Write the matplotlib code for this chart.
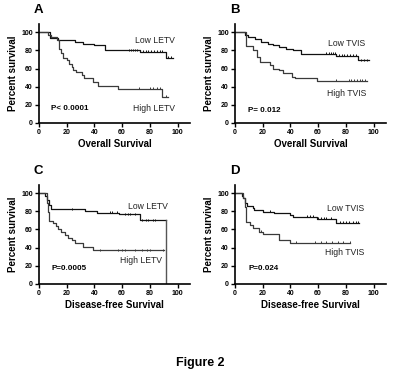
import numpy as np
import matplotlib
matplotlib.use("Agg")
from matplotlib import pyplot as plt

plt.rcParams['font.family'] = ['Liberation Sans', 'DejaVu Sans']

# ---- Panel A: overall survival by LETV ----
a_low_t = [0, 8, 14, 26, 32, 40, 47.5, 73, 92, 96.5]
a_low_s = [100, 94, 91, 89, 87.5, 86, 80, 78.5, 72, 72]
a_low_c = [65, 66.5, 68, 69.5, 71, 75, 77, 79, 81, 83, 85, 87, 89, 93, 95]
a_high_t = [0, 6.7, 9, 12.7, 14.4, 16, 17.5, 20, 22, 23.5, 24.7, 27, 30.7,
            32.6, 39, 42.7, 57, 88.7, 93]
a_high_s = [100, 97, 95, 91, 82, 77, 72, 69, 65.5, 62, 58, 56, 53, 49, 45,
            41, 37.5, 29, 29]
a_high_c = [72, 80, 82, 85, 87, 92]

# ---- Panel B: overall survival by TVIS ----
b_low_t = [0, 7, 9.6, 14.4, 19, 24, 27.6, 32, 37, 42, 48, 73, 89, 97]
b_low_s = [100, 97, 95, 92, 89, 87.5, 86, 84, 82, 80, 76, 74, 69, 69]
b_low_c = [66, 67.5, 69, 70.5, 72, 75, 77, 79, 81, 83, 85, 87, 91, 93, 95]
b_high_t = [0, 8, 13, 15.6, 18, 25, 27.6, 32, 35, 41, 43, 59, 95]
b_high_s = [100, 85, 80, 73, 67, 64, 60, 58, 55, 51, 49, 46, 46]
b_high_c = [73, 82, 84, 86, 88, 90, 92, 94]

# ---- Panel C: disease-free survival by LETV ----
c_low_t = [0, 4.3, 6, 7.2, 8.4, 33, 42, 58, 73, 92]
c_low_s = [100, 97, 92, 87, 82, 80, 78, 76.5, 70, 70]
c_low_c = [24, 33, 51, 53, 56, 62, 64, 66, 69, 74, 77, 79, 82, 84]
c_high_t = [0, 5.5, 6.7, 7.5, 10.3, 12, 13.5, 16, 19, 21, 23.5, 26, 32, 39, 90]
c_high_s = [100, 89, 79, 69, 67, 64, 60, 57, 54, 51, 48, 45, 41, 37, 37]
c_high_c = [44, 57, 60, 62, 69, 74, 78, 80, 89.5]

# ---- Panel D: disease-free survival by TVIS ----
d_low_t = [0, 4.8, 6, 7, 8.4, 13, 14, 20, 28, 40, 42, 59, 73, 89.5]
d_low_s = [100, 97, 94, 89, 86, 83, 81, 79.5, 78, 76, 74, 71.5, 67, 67]
d_low_c = [25, 52, 54, 56, 60, 62, 64, 66, 69, 76, 78, 80, 82, 85, 87, 89]
d_high_t = [0, 6, 7, 7.7, 11, 13, 17, 20, 32, 40, 83]
d_high_s = [100, 94, 85, 68.5, 65, 62, 57.5, 54.6, 48, 45, 45]
d_high_c = [19, 44, 58, 62, 66, 70, 74, 78, 83]

panels = [
    ('A', 'Overall Survival', 'P< 0.0001',
     (a_low_t, a_low_s, a_low_c), (a_high_t, a_high_s, a_high_c),
     ('Low LETV', 98, 91), ('High LETV', 98, 16.5), (9, 16.5)),
    ('B', 'Overall Survival', 'P= 0.012',
     (b_low_t, b_low_s, b_low_c), (b_high_t, b_high_s, b_high_c),
     ('Low TVIS', 94, 87.5), ('High TVIS', 94.5, 33), (9.4, 14)),
    ('C', 'Disease-free Survival', 'P=0.0005',
     (c_low_t, c_low_s, c_low_c), (c_high_t, c_high_s, c_high_c),
     ('Low LETV', 93, 85), ('High LETV', 89, 25.6), (9, 17)),
    ('D', 'Disease-free Survival', 'P=0.024',
     (d_low_t, d_low_s, d_low_c), (d_high_t, d_high_s, d_high_c),
     ('Low TVIS', 93, 83.5), ('High TVIS', 93.6, 34.4), (9.4, 17)),
]

# axes boxes in figure fraction
boxes = [
    [0.0975, 0.672, 0.3775, 0.264],
    [0.5875, 0.672, 0.3775, 0.264],
    [0.0975, 0.243, 0.3775, 0.264],
    [0.5875, 0.243, 0.3775, 0.264],
]


def step_value(t, s, x):
    idx = np.searchsorted(t, x, side='right') - 1
    return np.asarray(s)[idx]


fig = plt.figure(figsize=(4, 3.75), dpi=100)
for (letter, xlabel, ptext, low, high, low_lab, high_lab, p_pos), box in zip(panels, boxes):
    ax = fig.add_axes(box)
    for (t, s, c), col in ((low, '#111111'), (high, '#3a3a3a')):
        ax.step(t, s, where='post', color=col, lw=0.9, clip_on=False)
        ax.plot(c, step_value(t, s, c) + 0.8, ls='none', marker='|', ms=2.0,
                mew=0.7, color=col, clip_on=False)
    if letter == 'C':
        # last event drops the low group to zero
        ax.plot([c_low_t[-1], c_low_t[-1]], [c_low_s[-1], 0], color='#555555', lw=1.0)

    ax.text(low_lab[1], low_lab[2], low_lab[0], ha='right', va='center', fontsize=6.2,
            color='#222222')
    ax.text(high_lab[1], high_lab[2], high_lab[0], ha='right', va='center', fontsize=6.2,
            color='#222222')
    ax.text(p_pos[0], p_pos[1], ptext, ha='left', va='center', fontsize=5.8,
            fontweight='bold')

    ax.set_xlim(0, 109)
    ax.set_ylim(0, 109)
    ax.set_xticks([0, 20, 40, 60, 80, 100])
    ax.set_yticks([0, 20, 40, 60, 80, 100])
    for side in ('top', 'right'):
        ax.spines[side].set_visible(False)
    for side in ('left', 'bottom'):
        ax.spines[side].set_linewidth(1.2)
    ax.tick_params(direction='out', length=3, width=1, pad=1.5, labelsize=5)
    for lbl in ax.get_xticklabels() + ax.get_yticklabels():
        lbl.set_fontweight('bold')
    ax.set_xlabel(xlabel, fontsize=7, fontweight='bold', labelpad=2)
    ax.set_ylabel('Percent survival', fontsize=7, fontweight='bold', labelpad=2)

    bx = box[0] - 0.0125
    by = box[1] + box[3] + 0.038
    fig.text(bx, by, letter, fontsize=9.5, fontweight='bold', ha='left', va='center')

fig.text(0.5, 1 - 363 / 375, 'Figure 2', fontsize=9, fontweight='bold',
         ha='center', va='center')

fig.savefig('out.png', dpi=100)
plt.close()
